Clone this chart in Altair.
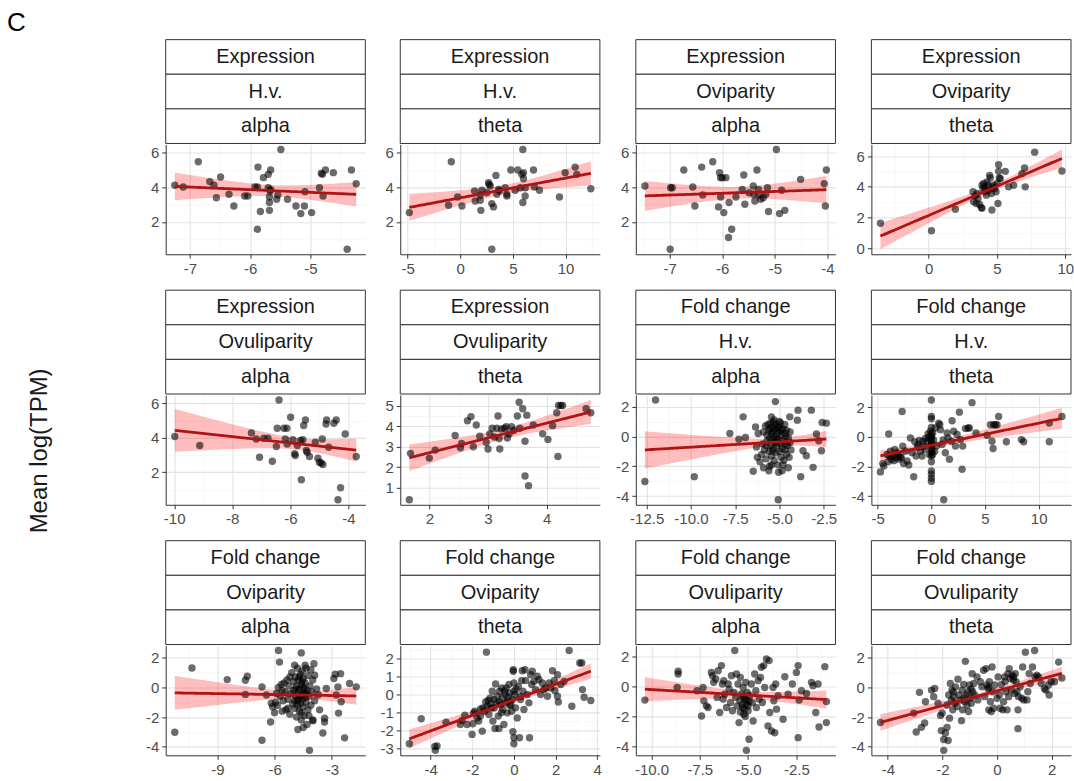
import numpy as np
import pandas as pd
import altair as alt

FONT = "Liberation Sans"

# ---------------- strip labels ----------------
strip_measure = ["Expression", "Expression", "Expression", "Expression",
                 "Expression", "Expression", "Fold change", "Fold change",
                 "Fold change", "Fold change", "Fold change", "Fold change"]
strip_mode = ["H.v.", "H.v.", "Oviparity", "Oviparity",
              "Ovuliparity", "Ovuliparity", "H.v.", "H.v.",
              "Oviparity", "Oviparity", "Ovuliparity", "Ovuliparity"]
strip_param = ["alpha", "theta", "alpha", "theta",
               "alpha", "theta", "alpha", "theta",
               "alpha", "theta", "alpha", "theta"]

# major tick steps and label formats (x, y)
x_steps = [1, 5, 1, 5, 2, 1, 2.5, 5, 3, 2, 2.5, 2]
y_steps = [2, 2, 2, 2, 2, 1, 2, 2, 2, 1, 2, 2]
x_formats = ["d", "d", "d", "d", "d", "d", ".1f", "d", "d", "d", ".1f", "d"]

# ---------------- data (x, y) ----------------
expr_hv_alpha = [(-7.25, 4.12), (-7.11, 4.02), (-6.86, 5.48), (-6.67, 4.33), (-6.60, 4.12), (-6.56, 3.40),
                 (-6.49, 4.60), (-6.35, 3.60), (-6.27, 2.92), (-6.09, 3.50), (-6.04, 3.50), (-5.92, 4.02),
                 (-5.88, 4.02), (-5.87, 5.17), (-5.88, 1.58), (-5.83, 2.60), (-5.78, 4.56), (-5.70, 4.75),
                 (-5.66, 5.00), (-5.70, 3.98), (-5.67, 3.79), (-5.68, 3.44), (-5.68, 3.12), (-5.68, 2.67),
                 (-5.66, 3.88), (-5.56, 3.31), (-5.54, 3.56), (-5.49, 6.19), (-5.38, 3.31), (-5.24, 2.92),
                 (-5.16, 2.48), (-5.10, 2.92), (-5.09, 3.75), (-4.98, 2.54), (-4.85, 3.98), (-4.82, 4.81),
                 (-4.80, 4.75), (-4.79, 3.50), (-4.75, 5.00), (-4.62, 4.85), (-4.39, 0.42), (-4.32, 5.00),
                 (-4.24, 4.21)]
expr_hv_theta = [(-4.84, 2.54), (-0.85, 5.48), (-1.11, 2.96), (-0.25, 3.44), (0.16, 2.92), (1.36, 3.79),
                 (1.42, 3.21), (1.90, 3.56), (1.90, 3.25), (1.96, 2.67), (2.06, 3.83), (2.53, 3.69),
                 (2.69, 4.27), (2.75, 4.17), (2.85, 4.08), (3.00, 3.06), (3.16, 2.87), (3.00, 0.42),
                 (3.39, 4.69), (3.48, 3.60), (3.64, 3.88), (3.73, 3.79), (4.27, 3.98), (4.43, 3.50),
                 (4.43, 3.60), (4.81, 5.00), (5.22, 3.83), (5.47, 5.00), (5.70, 3.98), (5.85, 4.75),
                 (5.95, 6.19), (6.01, 4.85), (6.01, 4.50), (5.95, 3.12), (6.17, 3.50), (6.17, 3.98),
                 (6.96, 5.00), (7.06, 4.02), (7.53, 3.83), (9.43, 3.44), (9.97, 4.85), (10.92, 5.17),
                 (11.08, 4.75), (12.41, 3.92)]
expr_ovip_alpha = [(-7.47, 4.08), (-6.98, 3.98), (-6.95, 3.98), (-6.99, 0.42), (-6.73, 5.00), (-6.56, 4.02),
                   (-6.52, 2.92), (-6.37, 3.56), (-6.39, 5.17), (-6.18, 5.48), (-6.07, 2.87), (-6.05, 4.85),
                   (-6.03, 4.56), (-6.00, 4.56), (-5.93, 4.56), (-6.03, 3.44), (-5.97, 2.54), (-5.88, 1.10),
                   (-5.87, 3.12), (-5.82, 1.58), (-5.74, 3.44), (-5.62, 3.88), (-5.59, 4.71), (-5.57, 3.02),
                   (-5.49, 3.69), (-5.41, 4.08), (-5.40, 3.60), (-5.38, 3.21), (-5.34, 5.00), (-5.31, 3.88),
                   (-5.30, 3.56), (-5.27, 3.31), (-5.22, 3.40), (-5.17, 3.60), (-5.14, 3.98), (-5.12, 2.60),
                   (-4.97, 6.19), (-4.91, 2.48), (-4.87, 3.83), (-4.81, 2.67), (-4.51, 4.46), (-4.06, 4.21),
                   (-4.02, 5.00), (-4.04, 2.92)]
expr_ovip_theta = [(-3.54, 1.63), (0.20, 1.14), (1.95, 2.54), (3.24, 3.68), (3.29, 3.03), (3.41, 3.40),
                   (3.49, 2.92), (3.54, 3.57), (3.61, 3.25), (3.73, 2.86), (3.85, 2.65), (3.90, 2.60),
                   (3.90, 4.11), (3.98, 3.89), (4.02, 4.22), (4.10, 4.00), (4.15, 3.68), (4.22, 3.46),
                   (4.27, 4.32), (4.34, 4.11), (4.39, 3.78), (4.46, 4.75), (4.51, 4.58), (4.59, 3.57),
                   (4.63, 2.49), (4.68, 4.00), (4.76, 4.11), (4.83, 3.89), (4.93, 3.68), (5.00, 4.22),
                   (5.07, 2.92), (5.12, 5.44), (5.12, 5.01), (5.17, 4.58), (5.24, 4.54), (5.61, 5.01),
                   (5.85, 4.00), (6.22, 4.11), (6.83, 4.86), (7.02, 5.23), (7.07, 4.00), (7.76, 6.26),
                   (9.76, 5.03)]
expr_ovul_alpha = [(-9.98, 4.07), (-9.12, 3.55), (-7.34, 4.28), (-7.17, 3.93), (-7.06, 2.87), (-6.91, 3.97),
                   (-6.77, 3.97), (-6.62, 2.64), (-6.48, 3.49), (-6.45, 4.55), (-6.39, 6.19), (-6.22, 4.55),
                   (-6.17, 3.93), (-6.12, 4.55), (-6.11, 3.64), (-5.99, 5.19), (-5.91, 3.88), (-5.85, 3.07),
                   (-5.83, 2.97), (-5.76, 3.55), (-5.65, 3.84), (-5.62, 1.56), (-5.57, 3.88), (-5.54, 4.71),
                   (-5.48, 5.03), (-5.45, 3.26), (-5.42, 3.16), (-5.34, 2.91), (-5.14, 3.74), (-5.05, 2.81),
                   (-5.00, 2.58), (-4.94, 2.53), (-4.88, 2.45), (-4.90, 3.93), (-4.77, 4.80), (-4.75, 5.03),
                   (-4.68, 3.45), (-4.50, 4.84), (-4.42, 5.03), (-4.36, 0.40), (-4.27, 1.10), (-4.11, 4.22),
                   (-3.73, 2.91)]
expr_ovul_theta = [(1.66, 0.41), (1.68, 2.67), (2.00, 2.44), (2.10, 2.83), (2.44, 3.54), (2.53, 2.94),
                   (2.55, 3.15), (2.65, 4.26), (2.71, 4.46), (2.75, 2.99), (2.80, 4.05), (2.86, 3.50),
                   (2.97, 3.20), (3.00, 2.88), (3.03, 3.62), (3.07, 3.89), (3.11, 3.47), (3.15, 3.89),
                   (3.17, 4.49), (3.19, 3.39), (3.20, 2.88), (3.23, 3.86), (3.28, 3.89), (3.31, 3.97),
                   (3.33, 3.42), (3.36, 3.62), (3.40, 3.97), (3.44, 3.78), (3.50, 4.49), (3.53, 5.16),
                   (3.54, 3.89), (3.59, 4.84), (3.63, 3.26), (3.63, 1.57), (3.66, 4.53), (3.69, 1.09),
                   (3.77, 4.05), (3.93, 3.62), (4.02, 3.35), (4.10, 4.02), (4.17, 4.65), (4.19, 2.52),
                   (4.20, 5.00), (4.24, 5.00), (4.27, 5.00), (4.67, 4.84), (4.75, 4.65)]
fc_hv_alpha = [(-12.60, -3.02), (-12.00, 2.44), (-9.81, -2.69), (-7.80, 0.20), (-7.29, -0.18), (-7.05, 1.31),
               (-6.92, -0.07), (-6.48, -2.33), (-6.35, 0.64), (-5.23, 2.33), (-5.45, 1.31), (-5.07, -4.24),
               (-4.42, 1.31), (-3.95, 1.76), (-3.99, 1.09), (-3.80, -2.69), (-3.67, -0.96), (-3.48, -1.29),
               (-3.20, 1.76), (-3.10, -2.07), (-2.91, 0.16), (-2.78, -0.29), (-2.63, -0.96), (-2.59, 0.93),
               (-2.35, 0.89),
               (-6.10, -1.70), (-6.00, -1.20), (-5.95, -0.50), (-5.90, 0.30), (-5.85, -0.90), (-5.80, 0.70),
               (-5.75, -1.50), (-5.70, 0.10), (-5.70, -0.30), (-5.65, 0.80), (-5.60, -1.00), (-5.60, 0.40),
               (-5.55, -0.10), (-5.55, -2.00), (-5.50, 0.90), (-5.50, -0.60), (-5.45, 0.20), (-5.45, -1.30),
               (-5.40, 0.60), (-5.40, -0.20), (-5.35, 0.95), (-5.35, -0.80), (-5.30, 0.00), (-5.30, -1.60),
               (-5.25, 0.50), (-5.25, -0.40), (-5.20, 0.80), (-5.20, -1.10), (-5.15, 0.20), (-5.15, -0.60),
               (-5.10, -1.90), (-5.10, 0.60), (-5.05, -0.20), (-5.05, -2.40), (-5.00, 0.30), (-5.00, -1.00),
               (-4.95, -0.50), (-4.95, 0.90), (-4.90, -1.40), (-4.90, 0.10), (-4.85, -0.80), (-4.85, -2.30),
               (-4.80, 0.50), (-4.80, -0.30), (-4.75, -1.60), (-4.70, 0.80), (-4.70, -0.90), (-4.65, 0.00),
               (-4.60, -1.20), (-4.60, 0.40), (-4.55, -0.60), (-4.50, -2.10), (-4.50, -0.10), (-4.45, -1.40),
               (-4.40, 0.30), (-4.35, -0.90), (-6.30, -0.70), (-6.20, 0.20), (-6.25, -1.40), (-5.90, -2.10),
               (-5.60, -2.30), (-5.45, -1.90), (-5.30, 1.10), (-5.00, 1.00), (-4.80, -1.90), (-4.65, -0.50),
               (-4.40, -0.40), (-5.15, -0.15), (-5.35, 0.35), (-5.55, 0.55), (-5.75, -0.60), (-5.05, 0.65),
               (-4.90, 0.45), (-5.20, -0.35), (-5.40, -0.95), (-4.70, 0.20)]
fc_hv_theta = [(-4.75, -2.36), (-4.53, -1.80), (-4.44, -1.96), (-4.13, -1.18), (-4.04, -1.67), (-3.98, 0.20),
               (-3.82, -0.96), (-3.73, -1.51), (-3.60, -1.29), (-3.42, -0.84), (-3.35, -1.40), (-3.20, -1.07),
               (-3.04, -1.51), (-2.89, -1.36), (-2.80, -1.40), (-2.73, 1.71), (-2.67, -0.62), (-2.42, -0.96),
               (-2.27, -1.62), (-2.11, -1.89), (-1.96, -0.07), (-1.80, -1.07), (-1.65, -2.69), (-1.55, -0.33),
               (-1.43, -1.29), (-1.24, -0.51), (-1.12, -0.24), (-1.02, -0.96), (-0.87, -1.29), (-0.71, -0.62),
               (-0.62, -0.84), (-0.56, -0.11), (-0.40, -0.29), (-0.31, 0.20), (-0.25, -0.02), (-0.19, -1.18),
               (-0.09, 0.38), (0.00, 2.49), (0.00, 1.38), (0.00, 1.22), (0.00, 0.64), (0.00, 0.16),
               (0.00, -0.07), (0.00, -0.29), (0.00, -0.56), (0.00, -0.84), (0.00, -1.07), (0.00, -1.29),
               (0.00, -1.67), (0.00, -2.29), (0.00, -2.51), (0.00, -2.78), (0.00, -3.00), (0.12, 0.27),
               (0.12, -1.18), (0.31, -0.96), (0.37, 0.60), (0.68, 0.93), (0.78, 0.82), (0.84, 0.49),
               (1.00, -0.51), (1.15, -4.24), (1.30, -1.07), (1.46, 0.27), (1.55, -0.07), (1.68, -1.51),
               (1.86, -0.29), (1.93, 1.09), (2.08, 0.38), (2.24, -0.62), (2.39, 0.16), (2.61, 1.67),
               (2.70, -0.18), (2.86, -2.18), (2.92, -0.62), (3.17, 0.56), (3.42, 0.60), (3.54, 0.60),
               (3.79, 2.31), (4.16, 0.27), (5.19, 0.11), (5.50, 0.82), (5.65, -0.29), (5.75, -0.78),
               (5.81, 0.82), (5.96, 0.82), (6.12, 0.82), (6.27, 1.38), (6.99, -0.33), (8.39, -0.18),
               (8.60, -0.33), (10.99, -0.33), (10.99, 0.93), (12.17, 1.38),
               (-3.90, -1.30), (-3.50, -1.60), (-3.10, -1.20), (-2.60, -1.80), (-1.30, -0.70), (-0.80, -0.30),
               (0.00, 0.00), (0.00, -0.45), (0.05, -0.90), (0.20, -0.20), (0.50, -0.60), (1.10, -0.20)]
fc_ovip_alpha = [(-11.23, -3.02), (-10.33, 1.31), (-8.48, 0.53), (-7.53, 0.49), (-7.43, 0.76), (-7.53, -0.47),
                 (-6.66, 0.04), (-6.66, -3.56), (-6.43, -0.51), (-6.21, -2.33), (-6.17, -1.07), (-5.79, 2.49),
                 (-5.74, 1.71), (-4.60, 2.33), (-4.78, -2.84), (-4.17, -4.24), (-3.94, 1.60), (-3.90, 0.82),
                 (-3.99, -2.24), (-3.64, -1.51), (-3.47, -3.07), (-3.38, -2.07), (-3.38, -2.33), (-3.29, -0.07),
                 (-2.89, 0.60), (-2.82, 0.89), (-2.77, -0.51), (-2.68, 0.04), (-2.65, -1.73), (-2.54, 0.93),
                 (-2.51, -0.96), (-2.33, -3.40), (-2.07, 0.27), (-1.72, 0.04),
                 (-6.10, -1.30), (-6.00, -1.70), (-5.95, -1.00), (-5.90, -0.40), (-5.85, -1.20), (-5.80, 0.00),
                 (-5.70, -0.60), (-5.65, 0.20), (-5.60, -1.60), (-5.55, -0.90), (-5.50, 0.30), (-5.45, -0.30),
                 (-5.40, -1.50), (-5.35, 0.50), (-5.30, -0.80), (-5.25, 0.10), (-5.20, -1.80), (-5.15, -0.40),
                 (-5.10, 1.00), (-5.05, -1.10), (-5.00, 0.40), (-5.00, -0.20), (-4.95, -1.40), (-4.90, 0.70),
                 (-4.90, -0.60), (-4.85, -2.00), (-4.85, 0.10), (-4.80, -0.90), (-4.80, 1.30), (-4.75, -0.30),
                 (-4.75, 0.50), (-4.70, -1.60), (-4.70, -0.10), (-4.65, 0.90), (-4.65, -1.10), (-4.60, 0.20),
                 (-4.60, -0.50), (-4.60, -2.20), (-4.55, 1.10), (-4.55, -0.80), (-4.50, 0.00), (-4.50, -1.30),
                 (-4.50, 0.60), (-4.45, -0.40), (-4.45, -1.90), (-4.40, 0.30), (-4.40, -0.70), (-4.35, 1.30),
                 (-4.35, -1.00), (-4.30, -0.20), (-4.30, -2.50), (-4.25, 0.80), (-4.25, -1.50), (-4.20, -0.60),
                 (-4.15, 0.10), (-4.10, -1.20), (-4.10, 1.20), (-4.05, -0.30), (-4.00, -2.20), (-4.00, 0.50),
                 (-3.90, -0.90), (-3.80, -0.10), (-3.70, -0.50), (-4.70, 0.70), (-4.80, -1.20), (-4.60, -1.70),
                 (-4.90, -0.10), (-4.55, 0.40), (-4.45, -0.10), (-4.65, -0.60), (-4.75, -0.80), (-4.35, -0.40),
                 (-4.50, -2.70), (-5.60, -0.20), (-5.20, 0.70), (-4.95, 1.50), (-4.40, 1.50), (-5.30, -1.40),
                 (-4.20, -1.90), (-4.95, -0.90)]
fc_ovip_theta = [(-5.02, -2.74), (-4.45, -1.35), (-3.80, -2.89), (-3.69, -2.87), (-3.77, -3.11), (-3.26, -1.54),
                 (-2.57, -1.67), (-2.49, -1.44), (-2.36, -1.15), (-2.25, -1.67), (-2.01, -2.22), (-1.97, -1.63),
                 (-1.93, -1.02), (-1.88, -0.93), (-1.77, -1.30), (-1.69, -1.48), (-1.61, -1.20), (-1.52, -2.04),
                 (-1.49, -0.74), (-1.40, -0.93), (-1.36, -0.41), (-1.32, 2.37), (-1.28, -0.65), (-1.24, -0.33),
                 (-1.20, -1.11), (-1.12, -0.56), (-1.08, -0.74), (-1.04, 0.19), (-1.01, -1.48), (-0.96, -0.28),
                 (-0.91, -1.89), (-0.88, 0.59), (-0.85, -0.46), (-0.80, -0.09), (-0.75, -1.20), (-0.72, -1.89),
                 (-0.69, 0.19), (-0.64, -0.56), (-0.59, 0.37), (-0.56, -0.19), (-0.53, -0.83), (-0.48, -1.67),
                 (-0.43, 0.00), (-0.40, -0.46), (-0.37, 0.37), (-0.32, -1.02), (-0.27, -0.15), (-0.24, 0.56),
                 (-0.21, 0.09), (-0.16, -0.56), (-0.11, -0.93), (-0.08, -0.28), (-0.05, -2.07), (-0.03, 1.39),
                 (-0.03, 1.30), (0.00, 0.65), (0.00, 0.19), (0.00, -2.41), (0.00, -2.74), (0.05, 0.00),
                 (0.08, -0.74), (0.16, -1.30), (0.21, 0.46), (0.27, -2.41), (0.32, -0.28), (0.37, 0.78),
                 (0.40, 1.33), (0.43, 0.19), (0.48, -0.83), (0.53, 1.39), (0.56, 0.78), (0.64, 0.00),
                 (0.72, -0.46), (0.75, -2.41), (0.80, 1.11), (0.85, 0.56), (0.88, 1.30), (0.96, 0.74),
                 (1.04, 0.28), (1.12, 1.02), (1.20, 0.83), (1.28, 0.00), (1.36, 0.65), (1.44, 0.28),
                 (1.52, 0.37), (1.61, -0.09), (1.69, 0.65), (1.77, 0.37), (1.85, 1.33), (1.93, 0.78),
                 (1.97, 0.22), (2.09, 1.11), (2.09, -0.09), (2.13, -0.41), (2.25, 0.56), (2.41, 0.74),
                 (2.65, 2.46), (2.78, -0.65), (3.16, 1.76), (3.26, 1.76), (3.29, 0.28), (3.37, -0.15),
                 (3.69, -0.33),
                 (-1.60, -0.80), (-1.15, -0.20), (-0.70, -0.40), (-0.45, 0.20), (-0.20, -0.60), (0.10, 0.30),
                 (0.30, -0.10), (-0.60, -1.00), (-0.95, -0.75), (-0.30, -0.35)]
fc_ovul_alpha = [(-10.34, -0.91), (-8.67, -0.07), (-8.62, 1.00), (-8.62, 0.82), (-7.64, -0.29), (-7.41, -1.96),
                 (-7.33, -0.07), (-7.29, -0.96), (-7.16, -1.29), (-7.07, -1.40), (-6.90, 0.93), (-6.84, 0.71),
                 (-6.78, 0.27), (-6.67, 0.49), (-6.60, -0.73), (-6.55, 1.04), (-6.47, -1.73), (-6.38, 1.38),
                 (-6.33, 0.16), (-6.29, -0.84), (-6.26, 0.38), (-6.21, -0.51), (-6.12, -1.40), (-6.03, 0.16),
                 (-5.98, -0.18), (-5.91, -1.07), (-5.86, 0.71), (-5.81, -1.62), (-5.74, -0.40), (-5.69, 2.38),
                 (-5.64, -0.73), (-5.60, 0.82), (-5.57, -1.29), (-5.52, 0.16), (-5.47, -2.40), (-5.43, -0.96),
                 (-5.40, 0.60), (-5.34, -0.51), (-5.29, -1.40), (-5.26, -0.07), (-5.22, -1.84), (-5.17, -0.84),
                 (-5.12, 0.27), (-5.09, -1.18), (-5.05, -0.40), (-5.00, -1.62), (-4.95, -3.51), (-5.09, -4.24),
                 (-4.91, -0.62), (-4.83, 0.16), (-4.78, -1.07), (-4.74, -2.29), (-4.66, 0.82), (-4.60, -0.29),
                 (-4.57, -1.40), (-4.48, 0.38), (-4.43, -0.84), (-4.36, 0.60), (-4.31, 1.27), (-4.26, -1.07),
                 (-4.19, 1.38), (-4.14, -0.07), (-4.05, 1.82), (-3.97, -2.62), (-3.91, 1.71), (-3.88, -1.73),
                 (-3.79, -2.96), (-3.71, -0.07), (-3.67, -0.96), (-3.62, -3.07), (-3.57, 0.16), (-3.53, -1.51),
                 (-3.45, -0.62), (-3.19, -2.18), (-3.10, 0.64), (-2.93, -0.51), (-2.71, 0.16), (-2.50, 0.93),
                 (-2.41, -3.40), (-2.41, 1.38), (-2.36, -0.91), (-2.24, -0.29), (-1.98, -0.47), (-1.72, 0.27),
                 (-1.64, 0.04), (-1.50, -1.73), (-1.38, 0.16), (-1.33, -2.69), (-1.03, 1.31), (-0.95, -1.00),
                 (-0.95, -2.40),
                 (-5.30, -1.20), (-5.20, -1.50), (-5.10, -0.90), (-5.00, -1.30), (-5.25, -0.70), (-4.95, -1.00),
                 (-5.40, -1.70), (-5.15, -2.00)]
fc_ovul_theta = [(-4.27, -2.36), (-3.05, -1.73), (-2.96, -3.00), (-2.84, -0.33), (-2.77, -2.69), (-2.65, -2.40),
                 (-2.62, -0.96), (-2.40, -0.18), (-2.32, -0.62), (-2.28, -0.07), (-2.16, -1.07), (-2.07, -1.89),
                 (-2.01, -1.73), (-2.04, -2.91), (-1.95, -3.51), (-1.95, -4.24), (-1.89, -3.07), (-1.83, -2.69),
                 (-1.79, -3.58), (-1.83, -1.18), (-1.77, -0.51), (-1.74, -2.07), (-1.71, 0.27), (-1.67, -0.84),
                 (-1.65, -0.18), (-1.62, -1.51), (-1.59, -0.62), (-1.55, -1.07), (-1.52, 0.04), (-1.46, -1.29),
                 (-1.43, 0.56), (-1.40, -0.51), (-1.34, -0.84), (-1.30, -2.24), (-1.28, -0.18), (-1.26, -1.51),
                 (-1.22, 0.20), (-1.18, -0.96), (-1.16, 1.76), (-1.13, -0.51), (-1.10, -1.18), (-1.06, -0.29),
                 (-1.04, -1.62), (-1.01, 0.16), (-0.98, -0.73), (-0.94, -1.07), (-0.91, 0.93), (-0.89, -0.29),
                 (-0.85, 0.27), (-0.82, -0.51), (-0.73, 0.71), (-0.70, -0.84), (-0.61, 0.38), (-0.55, 0.04),
                 (-0.49, 1.16), (-0.45, -0.62), (-0.40, 1.27), (-0.37, 0.16), (-0.33, -0.07), (-0.30, -1.51),
                 (-0.28, 0.38), (-0.24, -0.96), (-0.21, -1.62), (-0.18, 1.38), (-0.16, -0.29), (-0.12, -1.40),
                 (-0.09, 0.16), (0.00, -0.73), (0.04, 0.71), (0.09, -0.51), (0.12, -1.40), (0.16, 0.20),
                 (0.21, -1.51), (0.24, -0.96), (0.28, 0.71), (0.33, -0.29), (0.37, -1.51), (0.40, 0.93),
                 (0.43, -0.62), (0.45, 1.27), (0.49, 0.60), (0.52, -0.18), (0.55, 0.82), (0.61, 0.71),
                 (0.65, -0.40), (0.67, 0.93), (0.70, 0.38), (0.73, -0.29), (0.77, -2.78), (0.77, -1.51),
                 (0.79, -0.62), (0.85, 0.04), (0.91, -0.73), (0.94, 1.38), (0.98, -0.84), (1.04, 2.38),
                 (1.10, -0.84), (1.13, -0.29), (1.18, 0.93), (1.22, 0.27), (1.30, 1.38), (1.38, 2.49),
                 (1.40, 0.71), (1.46, 0.82), (1.52, 0.71), (1.62, 0.27), (1.74, -0.07), (1.79, -0.18),
                 (1.89, 0.16), (1.91, -0.51), (1.99, 0.38), (2.11, 0.38), (2.26, 1.71), (2.38, 0.64),
                 (-1.60, -0.30), (-1.20, -0.70), (-0.95, -0.10), (-0.30, 0.00), (0.30, 0.40), (0.60, 0.50)]

panel_data = [expr_hv_alpha, expr_hv_theta, expr_ovip_alpha, expr_ovip_theta,
              expr_ovul_alpha, expr_ovul_theta, fc_hv_alpha, fc_hv_theta,
              fc_ovip_alpha, fc_ovip_theta, fc_ovul_alpha, fc_ovul_theta]

# ---------------- layout constants ----------------
PW, PH = 200, 110      # plot area
HH = 104               # strip block height
COL_GAP, ROW_GAP = 13, 13

LINE_COLOR = "#AE1414"
BAND_COLOR = "#ff0000"


def lm_band(pts):
    x = np.array([p[0] for p in pts], dtype=float)
    y = np.array([p[1] for p in pts], dtype=float)
    n = len(x)
    b, a = np.polyfit(x, y, 1)
    resid = y - (a + b * x)
    s = np.sqrt((resid ** 2).sum() / (n - 2))
    xbar = x.mean()
    sxx = ((x - xbar) ** 2).sum()
    gx = np.linspace(x.min(), x.max(), 80)
    fit = a + b * gx
    df = n - 2
    z = 1.959964
    t = z + (z ** 3 + z) / (4 * df) + (5 * z ** 5 + 16 * z ** 3 + 3 * z) / (96 * df ** 2)
    se = s * np.sqrt(1.0 / n + (gx - xbar) ** 2 / sxx)
    return pd.DataFrame({"x": gx, "fit": fit, "lo": fit - t * se, "hi": fit + t * se})


def expand(lo, hi):
    r = hi - lo
    return [lo - 0.05 * r, hi + 0.05 * r]


def breaks(lo, hi, step):
    """major and minor (midpoint) break positions inside [lo, hi]"""
    half = step / 2.0
    k = int(np.floor(lo / half))
    major, minor = [], []
    while k * half <= hi + 1e-9:
        v = round(k * half, 6)
        if v >= lo - 1e-9:
            (major if k % 2 == 0 else minor).append(v)
        k += 1
    return major, minor


def major_axis(vals, fmt, orient):
    return alt.Axis(
        values=vals, format=fmt, orient=orient,
        labelExpr="replace(datum.label, '\u2212', '-')",
        title=None, labelOverlap=False,
        grid=True, gridColor="#e3e3e3", gridWidth=1.1,
        domainColor="#333333", tickColor="#333333", tickSize=4,
        labelColor="#4d4d4d", labelFontSize=15, labelFont=FONT, labelPadding=3,
    )


def minor_axis(vals, orient):
    return alt.Axis(
        values=vals, orient=orient, title=None,
        labels=False, ticks=False, domain=False,
        grid=True, gridColor="#f2f2f2", gridWidth=0.6,
    )


def make_panel(i):
    pts = panel_data[i]
    df = pd.DataFrame(pts, columns=["x", "y"])
    band = lm_band(pts)
    xd = expand(df["x"].min(), df["x"].max())
    yd = expand(min(df["y"].min(), band["lo"].min()), max(df["y"].max(), band["hi"].max()))
    xs = alt.Scale(domain=xd, nice=False, zero=False)
    ys = alt.Scale(domain=yd, nice=False, zero=False)
    xmaj, xmin = breaks(xd[0], xd[1], x_steps[i])
    ymaj, ymin = breaks(yd[0], yd[1], y_steps[i])

    points = alt.Chart(df).mark_circle(size=55, color="black", opacity=0.58).encode(
        x=alt.X("x:Q", scale=xs, axis=major_axis(xmaj, x_formats[i], "bottom")),
        y=alt.Y("y:Q", scale=ys, axis=major_axis(ymaj, "d", "left")),
    )
    ribbon = alt.Chart(band).mark_area(color=BAND_COLOR, opacity=0.26).encode(
        x=alt.X("x:Q", scale=xs, axis=minor_axis(xmin, "bottom")),
        y=alt.Y("lo:Q", scale=ys, axis=minor_axis(ymin, "left")),
        y2="hi:Q",
    )
    line = alt.Chart(band).mark_line(color=LINE_COLOR, strokeWidth=2.8).encode(
        x=alt.X("x:Q", scale=xs, axis=None),
        y=alt.Y("fit:Q", scale=ys, axis=None),
    )
    plot = alt.layer(ribbon, points, line).resolve_axis(
        x="independent", y="independent").properties(width=PW, height=PH)

    hdf = pd.DataFrame({"label": [strip_measure[i], strip_mode[i], strip_param[i]],
                        "row": [0, 1, 2]})
    hy = alt.Y("row:O", axis=None, scale=alt.Scale(paddingInner=0, paddingOuter=0))
    rect = alt.Chart(hdf).mark_rect(fill="white", stroke="#333333", strokeWidth=1).encode(
        y=hy, x=alt.value(0), x2=alt.value(PW))
    txt = alt.Chart(hdf).mark_text(fontSize=20, font=FONT, color="#1a1a1a", baseline="middle").encode(
        y=hy, x=alt.value(PW / 2), text="label:N")
    header = alt.layer(rect, txt).properties(width=PW, height=HH)

    return alt.vconcat(header, plot, spacing=0)


panels = [make_panel(i) for i in range(12)]
grid = alt.concat(*panels, columns=4, spacing={"row": ROW_GAP, "column": COL_GAP})

GRID_H = 3 * (HH + PH) + 2 * 37
ytitle = alt.Chart(pd.DataFrame({"t": ["Mean log(TPM)"]})).mark_text(
    angle=270, fontSize=24, font=FONT, color="#1a1a1a", baseline="middle", align="center"
).encode(text="t:N", x=alt.value(33), y=alt.value(412)).properties(width=50, height=GRID_H)

chart = alt.hconcat(ytitle, grid, spacing=88).properties(
    title=alt.TitleParams("C", anchor="start", fontSize=26, font=FONT, fontWeight="normal",
                          color="black", offset=3),
    padding={"left": 7, "top": 9, "right": 0, "bottom": 0},
).configure_view(stroke=None)

chart.save("out.html", embed_options={"renderer": "svg", "actions": False})
